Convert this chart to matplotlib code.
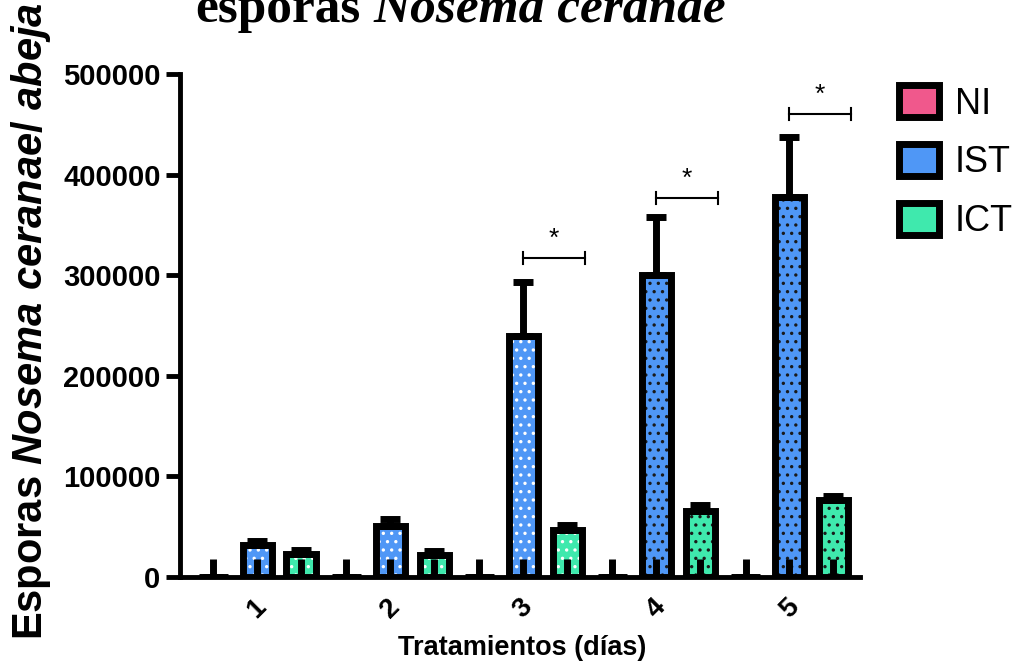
import matplotlib.pyplot as plt
import numpy as np
from matplotlib.patches import Patch

# values
days = ['1', '2', '3', '4', '5']
ni_mean = [0, 0, 0, 0, 0]
ni_err = [0, 0, 0, 0, 0]
ist_mean = [32000, 51000, 240000, 300000, 378000]
ist_err = [4000, 7000, 53000, 58000, 59000]
ict_mean = [23000, 22000, 47000, 66000, 76500]
ict_err = [4000, 4000, 5000, 6000, 4000]
spike = [18000, 18000, 18000, 18000, 18000]   # small black marks at bar bases
sig_y = [None, None, 317000, 377000, 460000]  # significance brackets (*)

series_names = ['NI', 'IST', 'ICT']
series_colors = ['#f0588c', '#4f97f6', '#3fe9ad']
dot_colors = [['white'] * 5,
              ['white', 'white', 'white', '#1a1a1a', '#1a1a1a'],
              ['white', 'white', 'white', '#1a1a1a', '#1a1a1a']]

plt.rcParams['font.family'] = 'Liberation Sans'
plt.rcParams['font.weight'] = 'bold'
plt.rcParams['mathtext.fontset'] = 'custom'
plt.rcParams['mathtext.rm'] = 'Liberation Sans:bold'
plt.rcParams['mathtext.it'] = 'Liberation Sans:italic:bold'
plt.rcParams['mathtext.bf'] = 'Liberation Sans:bold'
plt.rcParams['hatch.linewidth'] = 1.2

fig = plt.figure(figsize=(10.22, 6.65), dpi=100)
ax = fig.add_axes([0.1761, 0.1323, 0.6654, 0.7564])

x = np.arange(len(days))
offsets = [-0.33, 0.0, 0.33]
w = 0.22
all_means = [ni_mean, ist_mean, ict_mean]
all_errs = [ni_err, ist_err, ict_err]

for means, errs, dx, col, dots in zip(all_means, all_errs, offsets,
                                      series_colors, dot_colors):
    # filled + dotted layer (edge colour = dot colour), then black outline
    ax.bar(x + dx, means, w, color=col, edgecolor=dots, linewidth=0,
           hatch='..', zorder=2)
    ax.bar(x + dx, means, w, fill=False, edgecolor='black', linewidth=5, zorder=3)
    ax.errorbar(x + dx, means, yerr=[np.zeros(len(errs)), errs], fmt='none',
                ecolor='black', elinewidth=5, capsize=7, capthick=5, zorder=3)
    ax.vlines(x + dx, 0, spike, colors='black', linewidth=5, zorder=4)

# significance brackets
for i, y in enumerate(sig_y):
    if y is None:
        continue
    x0, x1 = x[i], x[i] + 0.46
    ax.plot([x0, x1], [y, y], color='black', lw=1.5, zorder=5)
    ax.plot([x0, x0], [y - 6000, y + 6000], color='black', lw=1.5)
    ax.plot([x1, x1], [y - 6000, y + 6000], color='black', lw=1.5)
    ax.text((x0 + x1) / 2, y + 7000, '*', ha='center', va='bottom',
            fontsize=19, fontweight='normal')

ax.set_xlim(-0.58, 4.53)
ax.set_ylim(0, 500000)
ax.set_yticks(range(0, 500001, 100000))
ax.set_yticklabels([str(v) for v in range(0, 500001, 100000)])
ax.set_xticks(x)
ax.set_xticklabels(days, rotation=45, fontsize=20)
ax.tick_params(axis='y', length=10, width=3.5, labelsize=21, pad=4)
ax.tick_params(axis='x', length=0, pad=12)
for s in ['top', 'right']:
    ax.spines[s].set_visible(False)
for s in ['left', 'bottom']:
    ax.spines[s].set_linewidth(3.5)

fig.text(522 / 1022, 1 - 648 / 665, 'Tratamientos (días)', ha='center',
         va='center', fontsize=19.5)
fig.text(31 / 1022, 1 - 640 / 665,
         r'Esporas $\mathit{Nosema\ ceranae}$/ $\mathit{abeja}$',
         rotation=90, ha='center', va='bottom', fontsize=30)

# title, partly cut off at the top like the source image
t1 = fig.text(195 / 1022, 1 - 22 / 665, 'esporas', family='Liberation Serif',
              weight='bold', size=37, va='baseline')
fig.canvas.draw()
bb = t1.get_window_extent()
fig.text((bb.x1 + 13) / fig.bbox.width, 1 - 22 / 665, 'Nosema ceranae',
         family='Liberation Serif', weight='bold', style='italic', size=37,
         va='baseline')

handles = [Patch(facecolor=c, edgecolor='black', linewidth=5) for c in series_colors]
fig.legend(handles, series_names, loc='upper left',
           bbox_to_anchor=(899 / 1022, 1 - 85 / 665), frameon=False,
           borderaxespad=0, borderpad=0,
           prop={'family': 'Liberation Sans', 'weight': 'normal', 'size': 26},
           handlelength=1.1, handleheight=1.0, labelspacing=0.62,
           handletextpad=0.45)

fig.savefig('out.png', dpi=100)
